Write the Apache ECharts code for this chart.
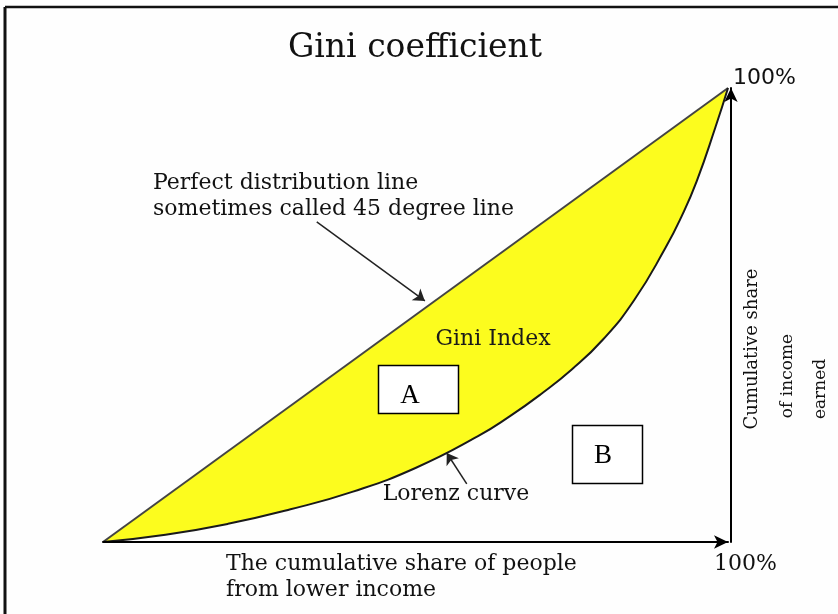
<!DOCTYPE html>
<html>
<head>
<meta charset="utf-8">
<script src="https://cdn.jsdelivr.net/npm/echarts@6/dist/echarts.min.js"></script>
<style>
  html, body { margin: 0; padding: 0; background: #fefefe; }
  #chart { width: 838px; height: 614px; }
</style>
</head>
<body>
<div id="chart"></div>
<script>
  // share of people (x) vs share of income (y), in %
  var equalityX = [0, 100];
  var equalityY = [0, 100];
  var lorenzX = [0, 10, 20, 30, 40, 50, 60, 65, 70, 75, 80, 85, 90, 92.5, 95, 98, 100];
  var lorenzY = [0, 1.6, 4.0, 7.2, 11.1, 16.3, 23.3, 27.6, 32.5, 38.0, 44.6, 53.3, 64.8, 71.5, 79.5, 91.4, 100];

  // annotation arrows, [tail, tip] in data units
  var perfectArrow = [[34.2, 70.5], [51.5, 53.1]];
  var lorenzArrow = [[58.2, 12.8], [55.0, 19.6]];

  var serif = '"DejaVu Serif", serif';
  var bg = '#fefefe';

  function pairs(xs, ys) {
    return xs.map(function (x, i) { return [x, ys[i]]; });
  }

  var chart = echarts.init(document.getElementById('chart'));
  chart.setOption({
    animation: false,
    backgroundColor: bg,
    grid: { left: 103, right: 110, top: 88, bottom: 72 },
    xAxis: {
      type: 'value', min: 0, max: 100, z: 10,
      axisLine: {
        show: true, onZero: false, symbol: ['none', 'arrow'], symbolSize: [10, 14],
        lineStyle: { color: '#000', width: 2 }
      },
      axisTick: { show: false },
      axisLabel: { show: false },
      splitLine: { show: false }
    },
    yAxis: {
      type: 'value', min: 0, max: 100, position: 'right', offset: 3, z: 10,
      axisLine: {
        show: true, onZero: false, symbol: ['none', 'arrow'], symbolSize: [10, 14],
        lineStyle: { color: '#000', width: 2 }
      },
      axisTick: { show: false },
      axisLabel: { show: false },
      splitLine: { show: false }
    },
    series: [
      {
        name: 'Perfect distribution',
        type: 'line',
        z: 2,
        symbol: 'none',
        data: pairs(equalityX, equalityY),
        lineStyle: { color: '#444', width: 2 },
        areaStyle: { color: '#fcfc1e', opacity: 1 },
        markLine: {
          silent: true,
          symbol: ['none', 'arrow'],
          symbolSize: 11,
          label: { show: false },
          lineStyle: { color: '#222', width: 1.5, type: 'solid' },
          data: [
            [{ coord: perfectArrow[0] }, { coord: perfectArrow[1] }],
            [{ coord: lorenzArrow[0] }, { coord: lorenzArrow[1] }]
          ]
        }
      },
      {
        name: 'Lorenz curve',
        type: 'line',
        z: 3,
        symbol: 'none',
        smooth: 0.5,
        data: pairs(lorenzX, lorenzY),
        lineStyle: { color: '#1a1a1a', width: 2 },
        areaStyle: { color: bg, opacity: 1 }
      }
    ],
    graphic: [
      // frame
      { type: 'line', shape: { x1: 5, y1: 7, x2: 838, y2: 7 }, style: { stroke: '#111', lineWidth: 2.5 } },
      { type: 'line', shape: { x1: 5, y1: 7, x2: 5, y2: 614 }, style: { stroke: '#111', lineWidth: 3 } },
      { type: 'text', x: 415, y: 48, style: { text: 'Gini coefficient', font: '33px ' + serif, fill: '#111', textAlign: 'center', textVerticalAlign: 'middle' } },
      { type: 'text', x: 153, y: 183, style: { text: 'Perfect distribution line', font: '22px ' + serif, fill: '#111', textAlign: 'left', textVerticalAlign: 'middle' } },
      { type: 'text', x: 153, y: 209, style: { text: 'sometimes called 45 degree line', font: '22px ' + serif, fill: '#111', textAlign: 'left', textVerticalAlign: 'middle' } },
      { type: 'text', x: 493, y: 339, z: 20, style: { text: 'Gini Index', font: '22px ' + serif, fill: '#1a1a1a', textAlign: 'center', textVerticalAlign: 'middle' } },
      { type: 'rect', z: 20, shape: { x: 378.5, y: 365.5, width: 80, height: 48 }, style: { fill: '#fff', stroke: '#000', lineWidth: 1.5 } },
      { type: 'text', x: 410, y: 396, z: 21, style: { text: 'A', font: '27px "Liberation Serif", serif', fill: '#000', textAlign: 'center', textVerticalAlign: 'middle' } },
      { type: 'rect', z: 20, shape: { x: 572.5, y: 425.5, width: 70, height: 58 }, style: { fill: '#fff', stroke: '#000', lineWidth: 1.5 } },
      { type: 'text', x: 603, y: 456, z: 21, style: { text: 'B', font: '27px "Liberation Serif", serif', fill: '#000', textAlign: 'center', textVerticalAlign: 'middle' } },
      { type: 'text', x: 456, y: 494, z: 20, style: { text: 'Lorenz curve', font: '22px ' + serif, fill: '#111', textAlign: 'center', textVerticalAlign: 'middle' } },
      { type: 'text', x: 733, y: 78, style: { text: '100%', font: '22px "DejaVu Sans", sans-serif', fill: '#111', textAlign: 'left', textVerticalAlign: 'middle' } },
      { type: 'text', x: 714, y: 564, style: { text: '100%', font: '22px ' + serif, fill: '#111', textAlign: 'left', textVerticalAlign: 'middle' } },
      { type: 'text', x: 226, y: 564, style: { text: 'The cumulative share of people', font: '22px ' + serif, fill: '#111', textAlign: 'left', textVerticalAlign: 'middle' } },
      { type: 'text', x: 226, y: 590, style: { text: 'from lower income', font: '22px ' + serif, fill: '#111', textAlign: 'left', textVerticalAlign: 'middle' } },
      { type: 'text', x: 752, y: 349, rotation: Math.PI / 2, style: { text: 'Cumulative share', font: '18px ' + serif, fill: '#111', textAlign: 'center', textVerticalAlign: 'middle' } },
      { type: 'text', x: 788, y: 376, rotation: Math.PI / 2, style: { text: 'of income', font: '17px ' + serif, fill: '#111', textAlign: 'center', textVerticalAlign: 'middle' } },
      { type: 'text', x: 821, y: 389, rotation: Math.PI / 2, style: { text: 'earned', font: '17px ' + serif, fill: '#111', textAlign: 'center', textVerticalAlign: 'middle' } }
    ]
  });
</script>
</body>
</html>
